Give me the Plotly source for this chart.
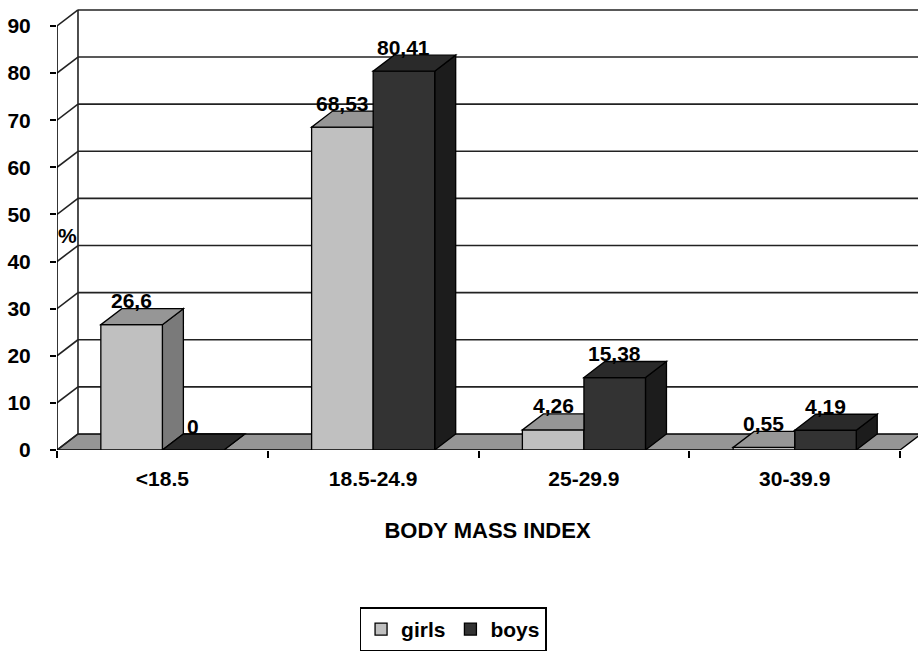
import plotly.graph_objects as go

# ---- data -------------------------------------------------------------
categories = ["<18.5", "18.5-24.9", "25-29.9", "30-39.9"]
girls = [26.6, 68.53, 4.26, 0.55]
boys = [0, 80.41, 15.38, 4.19]
y_ticks = [0, 10, 20, 30, 40, 50, 60, 70, 80, 90]

# ---- pseudo-3D geometry (axis units) ----------------------------------
BAR_W = 0.292       # front-face width of one bar, in category units
DX = 0.0996         # horizontal shift of the receding depth
DY = 3.4            # vertical shift of the receding depth
X_LO, X_HI = -0.5, len(categories) - 0.5
Y_TOP = y_ticks[-1]

GIRLS_FRONT, GIRLS_TOP, GIRLS_SIDE = "#c0c0c0", "#969696", "#7a7a7a"
BOYS_FRONT, BOYS_TOP, BOYS_SIDE = "#333333", "#2a2a2a", "#1c1c1c"
FLOOR = "#969696"
EDGE = "#000000"
GRID = "#222222"
FONT = dict(family="Arial", size=21, color="black", weight="bold")
TITLE_FONT = dict(family="Arial", size=22, color="black", weight="bold")

pos = list(range(len(categories)))


def fmt(v):
    return f"{v:g}".replace(".", ",")


def poly(points):
    return "M " + " L ".join(f"{x},{y}" for x, y in points) + " Z"


def line(x0, y0, x1, y1, color=GRID, width=1.6):
    return dict(type="line", xref="x", yref="y", x0=x0, y0=y0, x1=x1, y1=y1,
                line=dict(color=color, width=width), layer="below")


def face(points, fill, layer):
    return dict(type="path", xref="x", yref="y", path=poly(points),
                fillcolor=fill, line=dict(color=EDGE, width=1.3), layer=layer)


shapes = []
# floor
shapes.append(face([(X_LO, 0), (X_HI, 0), (X_HI + DX, DY), (X_LO + DX, DY)],
                   FLOOR, "below"))
# back-wall gridlines and side-wall diagonals
for t in y_ticks:
    if t > 0:
        shapes.append(line(X_LO + DX, t + DY, X_HI + DX + 0.2, t + DY))
    shapes.append(line(X_LO, t, X_LO + DX, t + DY))
shapes.append(line(X_LO + DX, DY, X_LO + DX, Y_TOP + DY))
# front value axis
shapes.append(line(X_LO, 0, X_LO, Y_TOP, color=EDGE))

# side faces (sit under the front faces of the bars)
for c, g, b in zip(pos, girls, boys):
    shapes.append(face([(c, 0), (c + DX, DY), (c + DX, g + DY), (c, g)],
                       GIRLS_SIDE, "below"))
    xr = c + BAR_W
    shapes.append(face([(xr, 0), (xr + DX, DY), (xr + DX, b + DY), (xr, b)],
                       BOYS_SIDE, "below"))

# top faces (above the front faces); girls' top is cut where the
# taller boys bar stands in front of it
for c, g, b in zip(pos, girls, boys):
    xl = c - BAR_W
    a, bb, cc, d = (xl, g), (c, g), (c + DX, g + DY), (xl + DX, g + DY)
    clip = min(max(b, g), g + DY)
    if clip <= g:
        pts = [a, bb, cc, d]
    elif clip >= g + DY:
        pts = [a, bb, (c, g + DY), d]
    else:
        px = c + DX * (clip - g) / DY
        pts = [a, bb, (c, clip), (px, clip), cc, d]
    shapes.append(face(pts, GIRLS_TOP, "above"))
    shapes.append(face([(c, b), (c + BAR_W, b), (c + BAR_W + DX, b + DY),
                        (c + DX, b + DY)], BOYS_TOP, "above"))

fig = go.Figure()
fig.add_trace(go.Bar(
    x=pos, y=girls, width=BAR_W, offset=-BAR_W, name="girls",
    marker=dict(color=GIRLS_FRONT, line=dict(color=EDGE, width=1.3)),
    hoverinfo="skip"))
fig.add_trace(go.Bar(
    x=pos, y=boys, width=BAR_W, offset=0, name="boys",
    marker=dict(color=BOYS_FRONT, line=dict(color=EDGE, width=1.3)),
    hoverinfo="skip"))

annotations = []
for c, g, b in zip(pos, girls, boys):
    annotations.append(dict(x=c - BAR_W / 2, y=g, xref="x", yref="y",
                            text=fmt(g), showarrow=False, yshift=24, font=FONT))
    annotations.append(dict(x=c + BAR_W / 2, y=b, xref="x", yref="y",
                            text=fmt(b), showarrow=False, yshift=24, font=FONT))
annotations.append(dict(x=X_LO + DX / 2, y=45.6, xref="x", yref="y", text="%",
                        showarrow=False, font=FONT))

fig.update_layout(
    width=918, height=655,
    margin=dict(l=57, r=0, t=9, b=205, pad=0),
    paper_bgcolor="white", plot_bgcolor="white",
    barmode="overlay",
    shapes=shapes,
    annotations=annotations,
    xaxis=dict(
        range=[X_LO, 3.585],
        tickmode="array", tickvals=pos, ticktext=categories,
        ticks="", showgrid=False, zeroline=False, showline=False,
        tickfont=FONT, ticklabelstandoff=14,
        minor=dict(tickmode="array",
                   tickvals=[p - 0.5 for p in pos] + [X_HI],
                   ticks="outside", ticklen=7, tickwidth=1.5,
                   tickcolor="black", showgrid=False),
        title=dict(text="BODY MASS INDEX", font=TITLE_FONT, standoff=33),
    ),
    yaxis=dict(
        range=[0, Y_TOP + DY + 0.2],
        tickmode="array", tickvals=y_ticks,
        ticks="outside", ticklen=6, tickwidth=1.5, tickcolor="black",
        showgrid=False, zeroline=False, showline=False,
        tickfont=FONT, ticklabelstandoff=15,
    ),
    legend=dict(
        orientation="h", x=0.46, xanchor="center", y=-0.357, yanchor="top",
        bordercolor="black", borderwidth=1.5, bgcolor="white",
        font=FONT, itemwidth=30,
    ),
    showlegend=True,
)

fig.write_html("out.html")
